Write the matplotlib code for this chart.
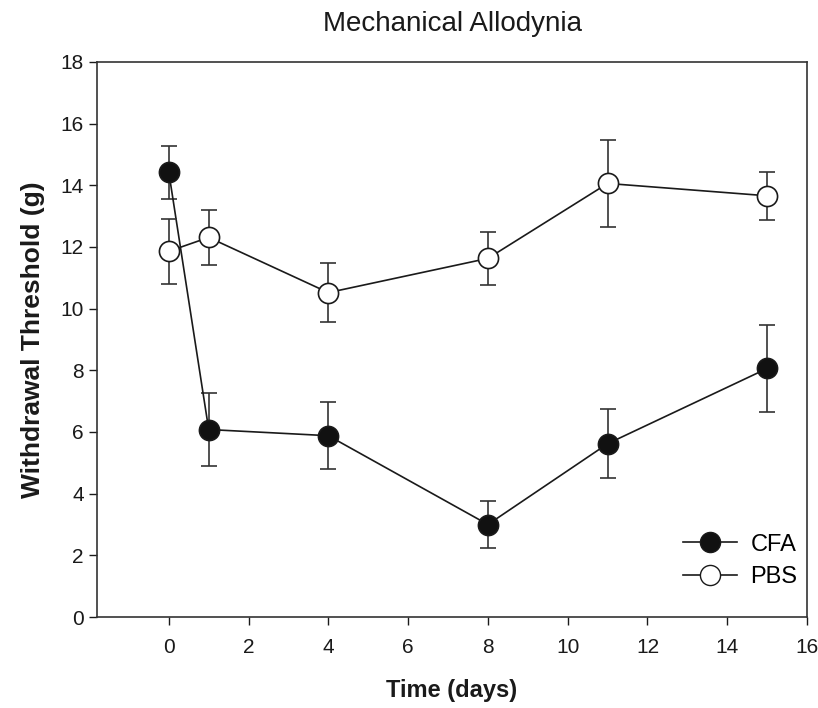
import matplotlib.pyplot as plt
from matplotlib.lines import Line2D

# data
days = [0, 1, 4, 8, 11, 15]
cfa_mean = [14.42, 6.08, 5.88, 3.0, 5.62, 8.06]
cfa_err = [0.86, 1.19, 1.08, 0.75, 1.12, 1.4]
pbs_mean = [11.86, 12.31, 10.52, 11.63, 14.06, 13.66]
pbs_err = [1.05, 0.9, 0.95, 0.87, 1.4, 0.78]

x_ticks = list(range(0, 17, 2))
y_ticks = list(range(0, 19, 2))

plt.rcParams["font.family"] = ["Liberation Sans", "DejaVu Sans"]

fig = plt.figure(figsize=(8.18, 7.08), dpi=100)
ax = fig.add_axes([0.1186, 0.1285, 0.868, 0.784])

ink = "#1a1a1a"
line_kw = dict(color=ink, lw=1.2, markersize=14.5, markeredgewidth=1.2,
               markeredgecolor=ink, ecolor="#333333", elinewidth=1.2,
               capsize=5.7, capthick=1.2)
ax.errorbar(days, cfa_mean, yerr=cfa_err, fmt="-o", markerfacecolor="#111111",
            zorder=3, **line_kw)
ax.errorbar(days, pbs_mean, yerr=pbs_err, fmt="-o", markerfacecolor="white",
            zorder=4, **line_kw)

ax.set_xlim(-1.8, 16)
ax.set_ylim(0, 18)
ax.set_xticks(x_ticks)
ax.set_yticks(y_ticks)
ax.tick_params(direction="out", length=6, width=1, labelsize=15, colors=ink)
ax.tick_params(axis="x", pad=9)
for s in ax.spines.values():
    s.set_linewidth(1.2)
    s.set_color("#333333")

ax.set_title("Mechanical Allodynia", fontsize=20, pad=22, color=ink)
ax.set_xlabel("Time (days)", fontsize=17, fontweight="bold", labelpad=16,
              color=ink)
ax.set_ylabel("Withdrawal Threshold (g)", fontsize=19, fontweight="bold",
              labelpad=11, color=ink)

# legend: line + marker only, no error bars
handles = [
    Line2D([], [], color=ink, lw=1.2, marker="o", markersize=14.5,
           markerfacecolor="#111111", markeredgecolor=ink),
    Line2D([], [], color=ink, lw=1.2, marker="o", markersize=14.5,
           markerfacecolor="white", markeredgecolor=ink),
]
ax.legend(handles, ["CFA", "PBS"], loc="center left",
          bbox_to_anchor=(683 / 818, (708 - 561) / 708),
          bbox_transform=fig.transFigure, frameon=False, fontsize=17,
          handlelength=2.3, handletextpad=0.55, borderpad=0, borderaxespad=0,
          labelspacing=0.45)

fig.savefig("out.png", dpi=100)
